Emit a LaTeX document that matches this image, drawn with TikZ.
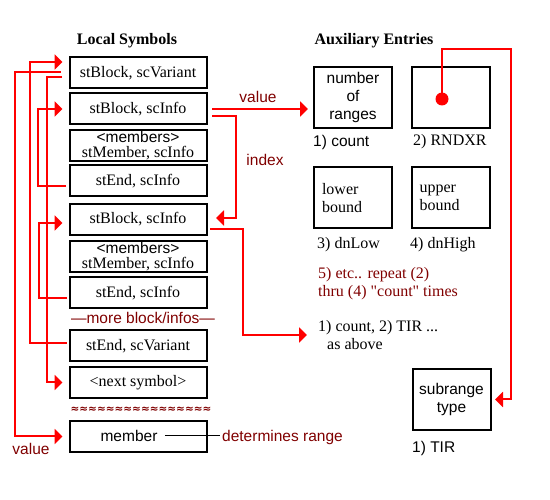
\documentclass[tikz,border=0pt]{standalone}
\usepackage{fontspec}
\setmainfont{Liberation Serif}
\setsansfont{Liberation Sans}
\newfontfamily\wavefont{DejaVu Sans}
\usepackage{tikz}
\usetikzlibrary{calc,arrows.meta}
\definecolor{wire}{HTML}{FF0000}
\definecolor{note}{HTML}{800000}
\newcommand{\boxfont}{\fontsize{16}{18}\selectfont}
\newcommand{\sansfont}{\sffamily\fontsize{15.5}{18}\selectfont}
\tikzset{
  box/.style={draw, line width=2pt, minimum width=137pt, minimum height=31pt, inner sep=0pt, font=\boxfont},
  aux/.style={draw, line width=2pt, minimum width=78pt, minimum height=61pt, inner sep=0pt, align=center, font=\sansfont},
  link/.style={draw=wire, line width=2pt, -{Triangle[length=8pt,width=15pt]}, shorten >=6pt},
  lab/.style={font=\boxfont, inner sep=0pt, anchor=west, align=left},
  labs/.style={font=\sansfont, inner sep=0pt, anchor=west},
  labr/.style={text=note, font=\sansfont},
  head/.style={font=\boxfont\bfseries},
  dot/.style={circle, fill=wire, inner sep=0pt, minimum size=13pt},
}

\begin{document}
\begin{tikzpicture}[x=1pt,y=-1pt]
  \useasboundingbox (0,0) rectangle (550,500);
  \node[head] at (127,41) {Local Symbols};
  \node[head] at (374,41) {Auxiliary Entries};
  % local symbol table
  \foreach \nm/\y/\txt in {S1/73/{stBlock, scVariant}, S2/109/{stBlock, scInfo},
      S4/181/{stEnd, scInfo}, S5/219.5/{stBlock, scInfo}, S7/293/{stEnd, scInfo},
      S8/346/{stEnd, scVariant}, S9/382.5/{<next symbol>}}
    \node[box] (\nm) at (138,\y) {\txt};
  \foreach \nm/\y in {S3/145.5, S6/256.5}
    \node[box, align=center, font=\fontsize{16}{15}\selectfont] (\nm) at (138,\y)
      {{\sansfont <members>}\\stMember, scInfo};
  \node[box] (S10) at (138,436.5) {};
  \node[labr] at (143,318) {—more block/infos—};
  \node[text=note, font=\wavefont\bfseries\fontsize{10.5}{12}\selectfont] at (141,410) {≈≈≈≈≈≈≈≈≈≈≈≈≈≈≈≈};
  \node[font=\sansfont] (M) at (129,436) {member};
  \node[labr, anchor=west, inner sep=2pt] (R) at (220,437) {determines range};
  \draw[line width=1pt] ([xshift=4pt]M.east) -- (M.east -| R.west);
  % auxiliary entries
  \node[aux] (A1) at (353,97.5) {number\\of\\ranges};
  \node[aux] (A2) at (450.5,97.5) {};
  \node[dot] (D) at (442,99) {};
  \node[aux, font=\boxfont, text width=62pt, align=left] (A3) at (353,198) {lower\\bound};
  \node[aux, font=\boxfont, text width=62pt, align=left] (A4) at (450.5,198) {upper\\bound};
  \node[aux] (A5) at (451.5,399.5) {subrange\\type};
  \node[labs] at (313,142) {1) count};
  \node[lab] at (413,142) {2) RNDXR};
  \node[lab] at (317,245) {3) dnLow};
  \node[lab] at (410,245) {4) dnHigh};
  \node[lab, text=note] at (318,284) {5) etc.. repeat (2)\\thru (4) \textquotedbl count\textquotedbl{} times};
  \node[lab] (T) at (318,335) {1) count, 2) TIR ...\\\hspace*{9pt}as above};
  \node[labs] at (412,448) {1) TIR};
  \node[labr] at (258,97) {value};
  \node[labr] at (265,160) {index};
  \node[labr] at (31,449) {value};
  % links
  \draw[link, shorten <=2pt] ([yshift=3pt]S8.west) -- ++(-38.5,0) |- ([yshift=11pt]S1.west);
  \draw[link, shorten <=7.5pt] ([yshift=1pt]S1.west) -- ++(-53.5,0) |- (S10.west);
  \draw[link, shorten <=6.5pt] ([yshift=-4pt]S1.west) -- ++(-21.5,0) |- (S9.west);
  \draw[link, shorten <=2.5pt] ([yshift=-5pt]S4.west) -- ++(-30.5,0) |- (S2.west);
  \draw[link, shorten <=1.5pt] ([yshift=-5pt]S7.west) -- ++(-29.5,0) |- ([yshift=-3.5pt]S5.west);
  \draw[link, shorten <=4.5pt, shorten >=5pt] (S2.east) -- (S2.east -| A1.west);
  \draw[link, shorten <=4.5pt, shorten >=8.5pt] ([yshift=-7pt]S2.east) -- ++(28.5,0) |- ([yshift=1.5pt]S5.east);
  \draw[link, shorten <=2.5pt, shorten >=11pt] ([yshift=-9.5pt]S5.east) -- ++(35.5,0) |- (T.west);
  \draw[link, shorten >=3.5pt] (D.center) |- ++(69,-50) |- (A5.east);
\end{tikzpicture}
\end{document}
